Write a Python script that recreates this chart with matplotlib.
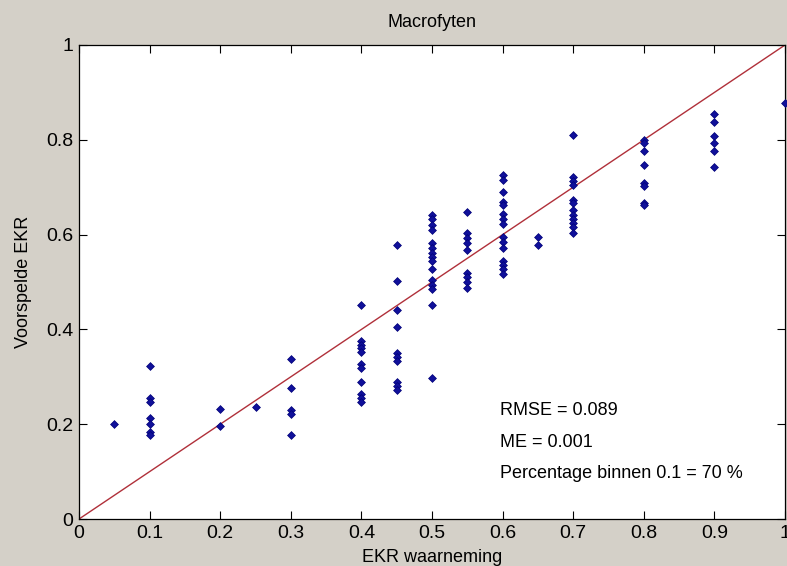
import matplotlib
matplotlib.use("Agg")
import matplotlib.pyplot as plt
import numpy as np

plt.rcParams['font.family'] = ['Liberation Sans Narrow', 'Liberation Sans', 'DejaVu Sans']

# observed EKR (x) and predicted EKR (y), grouped per observed value
obs_05 = [0.05]
pred_05 = [0.200]
obs_10 = [0.1] * 7
pred_10 = [0.323, 0.256, 0.247, 0.214, 0.200, 0.183, 0.177]
obs_20 = [0.2] * 2
pred_20 = [0.232, 0.196]
obs_25 = [0.25]
pred_25 = [0.236]
obs_30 = [0.3] * 5
pred_30 = [0.338, 0.276, 0.230, 0.221, 0.177]
obs_40 = [0.4] * 11
pred_40 = [0.451, 0.376, 0.368, 0.360, 0.352, 0.327, 0.319, 0.290, 0.264, 0.256, 0.246]
obs_45 = [0.45] * 10
pred_45 = [0.578, 0.503, 0.441, 0.406, 0.350, 0.341, 0.334, 0.290, 0.281, 0.272]
obs_50 = [0.5] * 15
pred_50 = [0.641, 0.632, 0.620, 0.610, 0.582, 0.571, 0.562, 0.553, 0.545,
           0.527, 0.504, 0.494, 0.485, 0.451, 0.298]
obs_55 = [0.55] * 9
pred_55 = [0.648, 0.603, 0.592, 0.582, 0.568, 0.518, 0.510, 0.499, 0.488]
obs_60 = [0.6] * 15
pred_60 = [0.726, 0.715, 0.690, 0.669, 0.662, 0.643, 0.632, 0.622, 0.596,
           0.585, 0.571, 0.545, 0.536, 0.527, 0.516]
obs_65 = [0.65] * 2
pred_65 = [0.596, 0.578]
obs_70 = [0.7] * 12
pred_70 = [0.810, 0.721, 0.713, 0.705, 0.674, 0.666, 0.652, 0.641, 0.632,
           0.624, 0.615, 0.604]
obs_80 = [0.8] * 8
pred_80 = [0.800, 0.794, 0.777, 0.747, 0.709, 0.703, 0.667, 0.662]
obs_90 = [0.9] * 6
pred_90 = [0.854, 0.838, 0.807, 0.793, 0.776, 0.743]
obs_100 = [1.0]
pred_100 = [0.878]

observed = (obs_05 + obs_10 + obs_20 + obs_25 + obs_30 + obs_40 + obs_45 + obs_50 +
            obs_55 + obs_60 + obs_65 + obs_70 + obs_80 + obs_90 + obs_100)
predicted = (pred_05 + pred_10 + pred_20 + pred_25 + pred_30 + pred_40 + pred_45 +
             pred_50 + pred_55 + pred_60 + pred_65 + pred_70 + pred_80 + pred_90 + pred_100)

ticks = [0, 0.1, 0.2, 0.3, 0.4, 0.5, 0.6, 0.7, 0.8, 0.9, 1]
tick_labels = ['0', '0.1', '0.2', '0.3', '0.4', '0.5', '0.6', '0.7', '0.8', '0.9', '1']
yticks = [0, 0.2, 0.4, 0.6, 0.8, 1]
ytick_labels = ['0', '0.2', '0.4', '0.6', '0.8', '1']
stats = ['RMSE = 0.089', 'ME = 0.001', 'Percentage binnen 0.1 = 70 %']

fig = plt.figure(figsize=(7.87, 5.66), dpi=100, facecolor='#d4d0c8')
ax = fig.add_axes([0.1004, 0.083, 0.8971, 0.8375])
ax.set_facecolor('white')

ax.plot([0, 1], [0, 1], color='#b0303a', lw=1.0, zorder=2)
ax.scatter(observed, predicted, marker='D', s=16, color='#10109a',
           edgecolors='#000078', linewidths=0.5, zorder=3, clip_on=False)

ax.set_xlim(0, 1)
ax.set_ylim(0, 1)
ax.set_xticks(ticks)
ax.set_xticklabels(tick_labels)
ax.set_yticks(yticks)
ax.set_yticklabels(ytick_labels)
ax.tick_params(direction='in', length=6, width=0.8, top=True, right=True,
               labelsize=14, colors='#000000', pad=4)
for s in ax.spines.values():
    s.set_linewidth(0.9)
    s.set_color('#000000')

ax.set_title('Macrofyten', fontsize=13, pad=13)
ax.set_xlabel('EKR waarneming', fontsize=13, labelpad=5)
ax.set_ylabel('Voorspelde EKR', fontsize=13, labelpad=10)

for i, t in enumerate(stats):
    ax.text(0.596, 0.228 - i * 0.066, t, fontsize=13, va='center', ha='left')

fig.savefig('out.png', dpi=100, facecolor=fig.get_facecolor())
